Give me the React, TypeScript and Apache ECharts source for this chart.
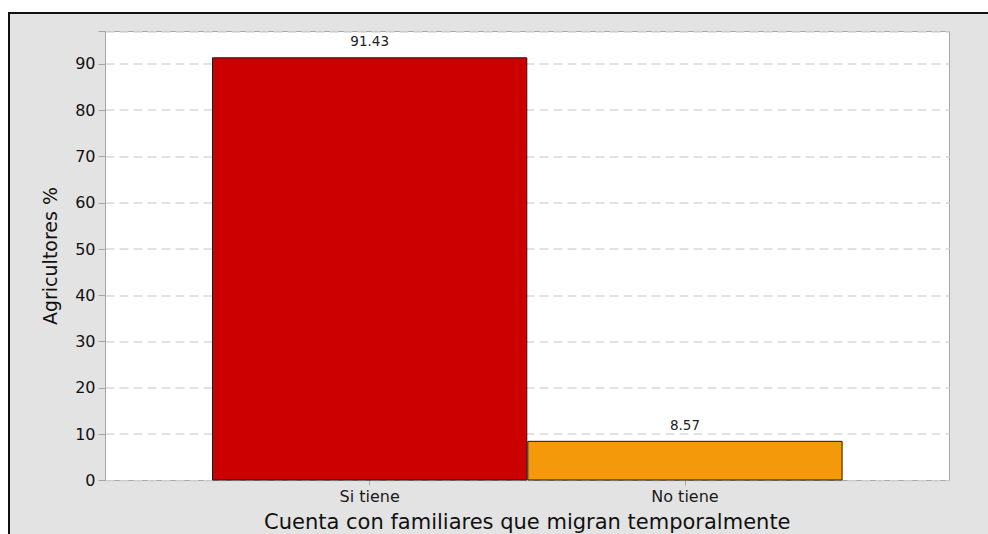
import React, { useEffect, useRef } from "react";
import * as echarts from "echarts";

const categories = ["Si tiene", "No tiene"];
const values = [91.43, 8.57];
const barColors = ["#CD0000", "#F49A0A"];
const yTicks = [0, 10, 20, 30, 40, 50, 60, 70, 80, 90];
const xTitle = "Cuenta con familiares que migran temporalmente";
const yTitle = "Agricultores %";

const FONT = "'DejaVu Sans', 'Noto Sans', sans-serif";
const Y_MAX = 97;

export default function App() {
  const ref = useRef<HTMLDivElement>(null);
  useEffect(() => {
    if (!ref.current) return;
    const chart = echarts.init(ref.current, undefined, { renderer: "svg" });
    const top = 31.5;
    const height = 449;
    chart.setOption({
      animation: false,
      graphic: [
        {
          type: "rect",
          z: -100,
          silent: true,
          shape: { x: 9, y: 13, width: 1000, height: 600 },
          style: { fill: "#e3e3e3", stroke: "#111", lineWidth: 2 },
        },
      ],
      grid: [
        {
          left: 105.5,
          top,
          width: 844,
          height,
          show: true,
          backgroundColor: "#ffffff",
          borderColor: "#a6a6a6",
          borderWidth: 1,
          outerBoundsMode: "none",
          containLabel: false,
          z: 0,
        },
        {
          left: 212,
          top,
          width: 630.6,
          height,
          outerBoundsMode: "none",
          containLabel: false,
          z: 2,
        },
      ],
      xAxis: [
        {
          gridIndex: 0,
          type: "value",
          min: 0,
          max: 1,
          show: false,
        },
        {
          gridIndex: 1,
          type: "category",
          data: categories,
          axisLine: { show: false },
          axisTick: {
            show: true,
            alignWithLabel: true,
            length: 5,
            lineStyle: { color: "#a6a6a6" },
          },
          axisLabel: {
            color: "#1a1a1a",
            fontFamily: FONT,
            fontSize: 16,
            margin: 8,
          },
          name: xTitle,
          nameLocation: "middle",
          nameGap: 31,
          nameTextStyle: { color: "#111", fontFamily: FONT, fontSize: 21 },
        },
      ],
      yAxis: [
        {
          gridIndex: 0,
          type: "value",
          min: 0,
          max: Y_MAX,
          interval: 10,
          axisLine: { show: true, lineStyle: { color: "#a6a6a6" } },
          axisTick: { show: true, length: 7, lineStyle: { color: "#a6a6a6" } },
          axisLabel: {
            color: "#111",
            fontFamily: FONT,
            fontSize: 16,
            margin: 10,
            customValues: yTicks,
          },
          splitLine: {
            show: true,
            lineStyle: { color: "#d9d9d9", type: [9, 5], width: 1.5 },
          },
          name: yTitle,
          nameLocation: "middle",
          nameGap: 46,
          nameTextStyle: { color: "#111", fontFamily: FONT, fontSize: 19 },
        },
        {
          gridIndex: 1,
          type: "value",
          min: 0,
          max: Y_MAX,
          show: false,
        },
      ],
      series: [
        {
          type: "bar",
          xAxisIndex: 1,
          yAxisIndex: 1,
          barCategoryGap: "0%",
          data: values.map((v, i) => ({
            value: v,
            itemStyle: {
              color: barColors[i],
              borderColor: "#1a1a1a",
              borderWidth: 1,
            },
          })),
          label: {
            show: true,
            position: "top",
            distance: 9,
            color: "#222",
            fontFamily: FONT,
            fontSize: 13.5,
            formatter: (p: any) => p.value.toFixed(2),
          },
          z: 3,
        },
      ],
    });
    return () => chart.dispose();
  }, []);
  return (
    <div
      ref={ref}
      style={{
        position: "fixed",
        left: 0,
        top: 0,
        width: 988,
        height: 534,
        background: "#ffffff",
      }}
    />
  );
}
